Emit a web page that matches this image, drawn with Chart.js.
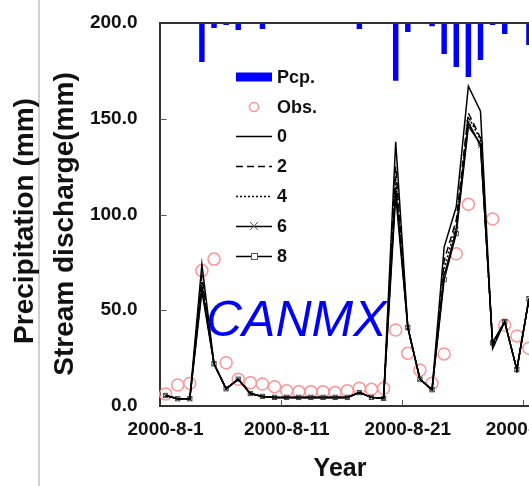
<!DOCTYPE html>
<html>
<head>
<meta charset="utf-8">
<script src="https://cdn.jsdelivr.net/npm/chart.js@4/dist/chart.umd.min.js"></script>
<style>
  body { margin: 0; overflow: hidden; background: #fff; }
  #sep { position: absolute; left: 38px; top: 0; width: 2px; height: 486px; background: #cfcfcf; }
  #wrap { position: absolute; left: 0; top: 0; width: 620px; height: 486px; }
</style>
</head>
<body>
<div id="sep"></div>
<div id="wrap"><canvas id="chart" width="620" height="486"></canvas></div>
<script>
// days of August 2000
var days = [];
for (var d = 1; d <= 31; d++) days.push('2000-8-' + d);

// precipitation (mm), hangs from the top
var pcp = [0, 0, 0.5, 20.4, 2.6, 1.0, 3.7, 0.5, 3.1, 0, 0, 0, 0, 0, 0, 0, 3.1, 0.5, 0.5, 30.2,
           4.7, 0.5, 1.7, 16.2, 23, 28.2, 19.3, 1.0, 5.8, 0, 11.5];

// observed discharge
var obs = [6.3, 11, 11.9, 70.7, 76.7, 22.6, 14, 12.2, 11.5, 10.1, 8, 7.5, 7.5, 7.5, 7, 8, 9.3, 8.7, 9.3, 39.7,
           27.5, 18.8, 11.9, 27.2, 79.5, 105.3, null, 97.6, 42.3, 36.6, 30.2];

// simulated discharge for CANMX = 0, 2, 4, 6, 8
var sim0 = [5.5, 3.8, 3.8, 74, 22, 9, 14, 6.5, 5, 4.5, 4.5, 4.5, 4.5, 4.5, 4.5, 4.5, 7, 4.5, 4, 138,
            41, 14, 8.5, 83, 104, 167, 154, 30, 44, 19, 56];
var sim2 = [5.5, 3.8, 3.8, 68, 22, 9, 14, 6.5, 5, 4.5, 4.5, 4.5, 4.5, 4.5, 4.5, 4.5, 7, 4.5, 4, 125,
            41, 14, 8.5, 76, 97, 153, 140, 32, 44, 19, 56];
var sim4 = [5.5, 3.8, 3.8, 65, 22, 9, 14, 6.5, 5, 4.5, 4.5, 4.5, 4.5, 4.5, 4.5, 4.5, 7, 4.5, 4, 120,
            41, 14, 8.5, 72, 94, 151, 139, 32, 44, 19, 56];
var sim6 = [5.5, 3.8, 3.8, 62, 22, 9, 14, 6.5, 5, 4.5, 4.5, 4.5, 4.5, 4.5, 4.5, 4.5, 7, 4.5, 4, 114,
            41, 14, 8.5, 68, 92, 148, 136, 33, 44, 19, 56];
var sim8 = [5.5, 3.8, 3.8, 60, 22, 9, 14, 6.5, 5, 4.5, 4.5, 4.5, 4.5, 4.5, 4.5, 4.5, 7, 4.5, 4, 110,
            41, 14, 8.5, 66, 90, 146, 137, 33, 44, 19, 56];

var yTicks = [0, 50, 100, 150, 200];

var FONT = "'Liberation Sans', Arial, sans-serif";
var obsColor = '#ff9494';

function simLine(label, data, dash, style, radius) {
    return {
        type: 'line',
        label: label,
        data: data,
        yAxisID: 'y',
        borderColor: '#000',
        borderWidth: 1.5,
        borderDash: dash,
        tension: 0,
        pointStyle: style || 'circle',
        pointRadius: radius || 0,
        pointBorderColor: '#444',
        pointBackgroundColor: 'rgba(0,0,0,0)',
        pointBorderWidth: 1
    };
}

// titles, legend, inside tick marks and top frame line
var extras = {
    id: 'extras',
    afterDraw: function(chart) {
        var ctx = chart.ctx;
        var area = chart.chartArea;
        var xs = chart.scales.x, ys = chart.scales.y;
        ctx.save();

        // top frame line
        ctx.strokeStyle = '#333';
        ctx.lineWidth = 2;
        ctx.beginPath();
        ctx.moveTo(area.left, area.top);
        ctx.lineTo(area.right, area.top);
        ctx.stroke();

        // inside ticks
        ctx.lineWidth = 1;
        ctx.strokeStyle = '#555';
        [10, 20, 30].forEach(function(i) {
            var x = Math.round((xs.getPixelForValue(i - 1) + xs.getPixelForValue(i)) / 2) + 0.5;
            ctx.beginPath();
            ctx.moveTo(x, area.bottom);
            ctx.lineTo(x, area.bottom - 6);
            ctx.stroke();
        });
        [50, 100, 150].forEach(function(v) {
            var y = Math.round(ys.getPixelForValue(v)) + 0.5;
            ctx.beginPath();
            ctx.moveTo(area.left, y);
            ctx.lineTo(area.left + 7, y);
            ctx.stroke();
        });

        // axis titles
        ctx.fillStyle = '#111';
        ctx.textAlign = 'center';
        ctx.textBaseline = 'middle';
        ctx.font = 'bold 28px ' + FONT;
        ctx.save();
        ctx.translate(25, 221);
        ctx.rotate(-Math.PI / 2);
        ctx.fillText('Precipitation (mm)', 0, 0);
        ctx.restore();
        ctx.save();
        ctx.translate(65, 224);
        ctx.rotate(-Math.PI / 2);
        ctx.fillText('Stream discharge(mm)', 0, 0);
        ctx.restore();
        ctx.font = 'bold 25px ' + FONT;
        ctx.fillText('Year', 340, 469);

        // CANMX label
        ctx.fillStyle = '#0000ff';
        ctx.textAlign = 'left';
        ctx.textBaseline = 'alphabetic';
        ctx.font = 'italic 50px ' + FONT;
        ctx.fillText('CANMX', 206, 336);

        // legend
        var rows = [
            { t: 'Pcp.', y: 77 }, { t: 'Obs.', y: 107 }, { t: '0', y: 136 }, { t: '2', y: 166 },
            { t: '4', y: 196 }, { t: '6', y: 226 }, { t: '8', y: 256 }
        ];
        var x0 = 236, x1 = 272;
        rows.forEach(function(r, i) {
            ctx.save();
            if (i === 0) {
                ctx.fillStyle = '#0000ff';
                ctx.fillRect(x0, r.y - 4.5, x1 - x0, 9);
            } else if (i === 1) {
                ctx.strokeStyle = obsColor;
                ctx.lineWidth = 1.5;
                ctx.beginPath();
                ctx.arc(254, r.y, 4.5, 0, Math.PI * 2);
                ctx.stroke();
            } else {
                ctx.strokeStyle = '#000';
                ctx.lineWidth = 1.5;
                if (r.t === '2') ctx.setLineDash([7, 4]);
                if (r.t === '4') ctx.setLineDash([2, 2]);
                ctx.beginPath();
                ctx.moveTo(x0, r.y + 0.5);
                ctx.lineTo(x1, r.y + 0.5);
                ctx.stroke();
                ctx.setLineDash([]);
                ctx.strokeStyle = '#555';
                ctx.lineWidth = 1;
                if (r.t === '6') {
                    ctx.beginPath();
                    ctx.moveTo(250, r.y - 4); ctx.lineTo(258, r.y + 4);
                    ctx.moveTo(258, r.y - 4); ctx.lineTo(250, r.y + 4);
                    ctx.stroke();
                }
                if (r.t === '8') {
                    ctx.fillStyle = '#fff';
                    ctx.fillRect(251, r.y - 3, 6, 6);
                    ctx.strokeRect(251.5, r.y - 2.5, 6, 6);
                }
            }
            ctx.restore();
            ctx.fillStyle = '#111';
            ctx.font = 'bold 18px ' + FONT;
            ctx.textAlign = 'left';
            ctx.textBaseline = 'middle';
            ctx.fillText(r.t, 277, r.y + 1);
        });

        ctx.restore();
    }
};

var chart = new Chart(document.getElementById('chart').getContext('2d'), {
    data: {
        labels: days,
        datasets: [
            simLine('0', sim0, []),
            simLine('2', sim2, [7, 4]),
            simLine('4', sim4, [2, 2]),
            simLine('6', sim6, [], 'crossRot', 3.5),
            simLine('8', sim8, [], 'rect', 3),
            {
                type: 'line',
                label: 'Obs.',
                data: obs,
                yAxisID: 'y',
                showLine: false,
                pointStyle: 'circle',
                pointRadius: 6,
                pointBorderWidth: 1.5,
                pointBorderColor: obsColor,
                pointBackgroundColor: 'rgba(0,0,0,0)'
            },
            {
                type: 'bar',
                label: 'Pcp.',
                data: pcp,
                yAxisID: 'yp',
                backgroundColor: '#0000ff',
                categoryPercentage: 1,
                barPercentage: 0.45
            }
        ]
    },
    options: {
        responsive: false,
        animation: false,
        events: [],
        layout: { padding: { left: 0, top: 23, right: 85, bottom: 0 } },
        plugins: { legend: { display: false }, tooltip: { enabled: false } },
        scales: {
            x: {
                type: 'category',
                offset: true,
                grid: { display: true, drawOnChartArea: false, drawTicks: false, offset: true },
                border: { display: true, color: '#333', width: 2 },
                ticks: {
                    autoSkip: false,
                    maxRotation: 0,
                    padding: 12,
                    color: '#111',
                    font: { family: FONT, size: 19, weight: 'bold' },
                    callback: function(v, i) { return i % 10 === 0 ? days[i] : ''; }
                },
                afterFit: function(s) { s.height = 80; }
            },
            y: {
                position: 'left',
                min: 0,
                max: 200,
                afterBuildTicks: function(s) { s.ticks = yTicks.map(function(v) { return { value: v }; }); },
                grid: { display: true, drawOnChartArea: false, drawTicks: false },
                border: { display: true, color: '#333', width: 2 },
                ticks: {
                    padding: 22,
                    color: '#111',
                    font: { family: FONT, size: 19, weight: 'bold' },
                    callback: function(v) { return Number(v).toFixed(1); }
                },
                afterFit: function(s) {
                    s.width = 159.5;
                    s.paddingTop = 5;
                    s.paddingBottom = 5;
                }
            },
            yp: {
                display: false,
                position: 'right',
                reverse: true,
                min: 0,
                max: 200
            }
        }
    },
    plugins: [extras]
});
</script>
</body>
</html>
